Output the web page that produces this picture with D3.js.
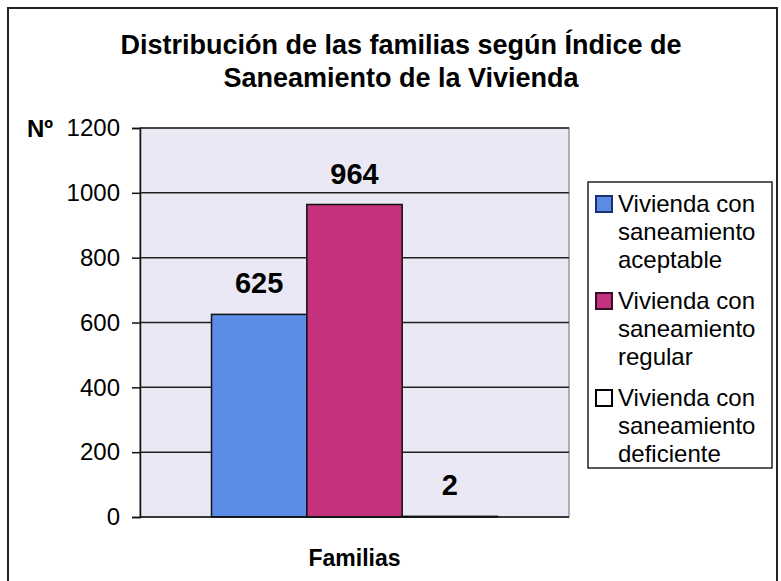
<!DOCTYPE html>
<html>
<head>
<meta charset="utf-8">
<script src="https://cdn.jsdelivr.net/npm/d3@7"></script>
<style>
  body { margin: 0; background: #fff; }
  text { font-family: "Liberation Sans", Arial, sans-serif; fill: #000; }
</style>
</head>
<body>
<div id="chart"></div>
<script>
// chart values
var categories = ["Familias"];
var series = ["Vivienda con saneamiento aceptable", "Vivienda con saneamiento regular", "Vivienda con saneamiento deficiente"];
var values = [625, 964, 2];
var legendLines = [
    ["Vivienda con", "saneamiento", "aceptable"],
    ["Vivienda con", "saneamiento", "regular"],
    ["Vivienda con", "saneamiento", "deficiente"]
];
var yTicks = [0, 200, 400, 600, 800, 1000, 1200];
var titleLines = ["Distribución de las familias según Índice de", "Saneamiento de la Vivienda"];

var colors = ["#5b8de6", "#c4327e", "#ffffff"];
var swatchStroke = ["#1c2f6e", "#3a0c25", "#000"];

var width = 781, height = 581;
var plot = {left: 140, right: 569, top: 128, bottom: 517};

var svg = d3.select('#chart').append('svg')
    .attr('width', width)
    .attr('height', height);

// outer frame
svg.append('rect')
    .attr('x', 8).attr('y', 8)
    .attr('width', 769).attr('height', 600)
    .attr('fill', '#fff')
    .attr('stroke', '#222')
    .attr('stroke-width', 2);

// title
svg.append('g').selectAll('text')
    .data(titleLines)
    .enter().append('text')
    .attr('x', 401)
    .attr('y', function(d, i) { return 54 + i * 33; })
    .attr('text-anchor', 'middle')
    .attr('font-size', 27)
    .attr('font-weight', 'bold')
    .text(function(d) { return d; });

var y = d3.scaleLinear().domain([0, 1200]).range([plot.bottom, plot.top]);

var x = d3.scaleBand().domain(categories)
    .range([plot.left, plot.right])
    .paddingInner(0).paddingOuter(0.25);

var xs = d3.scaleBand().domain(series).range([0, x.bandwidth()]);

// plot area
svg.append('rect')
    .attr('x', plot.left).attr('y', plot.top)
    .attr('width', plot.right - plot.left)
    .attr('height', plot.bottom - plot.top)
    .attr('fill', '#e9e8f4')
    .attr('stroke', '#999')
    .attr('stroke-width', 1.5);

// gridlines
svg.append('g').selectAll('line')
    .data(yTicks.filter(function(d) { return d > 0; }))
    .enter().append('line')
    .attr('x1', plot.left).attr('x2', plot.right)
    .attr('y1', function(d) { return y(d); })
    .attr('y2', function(d) { return y(d); })
    .attr('stroke', '#222')
    .attr('stroke-width', 1.5);

// bars
var g = svg.append('g').attr('transform', 'translate(' + x(categories[0]) + ',0)');
g.selectAll('rect')
    .data(values)
    .enter().append('rect')
    .attr('x', function(d, i) { return xs(series[i]); })
    .attr('y', function(d) { return y(d); })
    .attr('width', xs.bandwidth())
    .attr('height', function(d) { return y(0) - y(d); })
    .attr('fill', function(d, i) { return colors[i]; })
    .attr('stroke', '#111')
    .attr('stroke-width', 1.5);

g.selectAll('text.lbl')
    .data(values)
    .enter().append('text')
    .attr('class', 'lbl')
    .attr('x', function(d, i) { return xs(series[i]) + xs.bandwidth() / 2; })
    .attr('y', function(d) { return y(d) - 21; })
    .attr('text-anchor', 'middle')
    .attr('font-size', 29)
    .attr('font-weight', 'bold')
    .text(function(d) { return d; });

// y axis
var yAxis = d3.axisLeft(y).tickValues(yTicks).tickFormat(d3.format('d'))
    .tickSize(8).tickPadding(12);
var ya = svg.append('g')
    .attr('transform', 'translate(' + plot.left + ',0)')
    .call(yAxis);
ya.select('.domain').attr('stroke', '#111').attr('stroke-width', 1.5);
ya.selectAll('.tick line').attr('stroke', '#111').attr('stroke-width', 1.5);
ya.selectAll('.tick text')
    .attr('font-size', 24)
    .attr('font-family', '"Liberation Sans", Arial, sans-serif')
    .attr('fill', '#000');

// x axis line
svg.append('line')
    .attr('x1', plot.left).attr('x2', plot.right)
    .attr('y1', y(0)).attr('y2', y(0))
    .attr('stroke', '#111').attr('stroke-width', 1.5);

svg.append('text')
    .attr('x', 27).attr('y', y(1200) + 9)
    .attr('font-size', 24)
    .attr('font-weight', 'bold')
    .text('Nº');

svg.append('text')
    .attr('x', (plot.left + plot.right) / 2)
    .attr('y', 566)
    .attr('text-anchor', 'middle')
    .attr('font-size', 23)
    .attr('font-weight', 'bold')
    .text(categories[0]);

// legend
var legend = svg.append('g');
legend.append('rect')
    .attr('x', 588).attr('y', 182)
    .attr('width', 184).attr('height', 286)
    .attr('fill', '#fff')
    .attr('stroke', '#222')
    .attr('stroke-width', 1.5);

var item = legend.selectAll('g.item')
    .data(series)
    .enter().append('g')
    .attr('class', 'item')
    .attr('transform', function(d, i) { return 'translate(0,' + (204 + i * 97) + ')'; });

item.append('rect')
    .attr('x', 596).attr('y', -8)
    .attr('width', 16).attr('height', 16)
    .attr('fill', function(d, i) { return colors[i]; })
    .attr('stroke', function(d, i) { return swatchStroke[i]; })
    .attr('stroke-width', 2);

item.each(function(d, i) {
    d3.select(this).selectAll('text')
        .data(legendLines[i])
        .enter().append('text')
        .attr('x', 618)
        .attr('y', function(t, j) { return j * 28 + 8; })
        .attr('font-size', 24)
        .text(function(t) { return t; });
});
</script>
</body>
</html>
